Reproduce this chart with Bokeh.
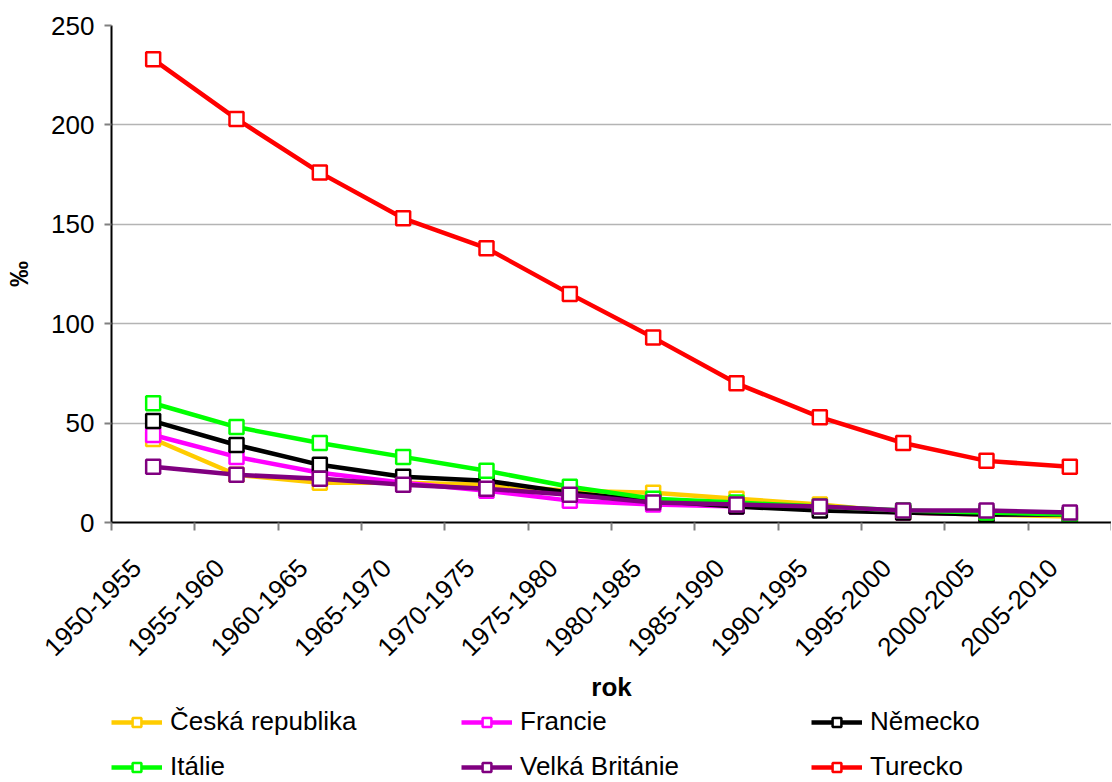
from bokeh.plotting import figure
from bokeh.models import Range1d, FixedTicker, Legend, LegendItem
from bokeh.layouts import column
from bokeh.embed import file_html
from bokeh.resources import INLINE

periods = ["1950-1955", "1955-1960", "1960-1965", "1965-1970", "1970-1975", "1975-1980",
           "1980-1985", "1985-1990", "1990-1995", "1995-2000", "2000-2005", "2005-2010"]

cesko = [42, 24, 20, 20, 19, 16, 15, 12, 9, 5, 4, 3]
francie = [44, 33, 25, 20, 16, 11, 9, 8, 7, 5, 4, 4]
nemecko = [51, 39, 29, 23, 21, 15, 11, 8, 6, 5, 4, 4]
italie = [60, 48, 40, 33, 26, 18, 12, 10, 8, 6, 5, 4]
britanie = [28, 24, 22, 19, 17, 14, 10, 9, 8, 6, 6, 5]
turecko = [233, 203, 176, 153, 138, 115, 93, 70, 53, 40, 31, 28]

series_names = ["Česká republika", "Francie", "Německo", "Itálie", "Velká Británie", "Turecko"]
series_values = [cesko, francie, nemecko, italie, britanie, turecko]
series_colors = ["#FFCC00", "#FF00FF", "#000000", "#00FF00", "#800080", "#FF0000"]

y_ticks = [0, 50, 100, 150, 200, 250]

FONT = "Liberation Sans"
FS = "26px"
n = len(periods)
xs = [i + 0.5 for i in range(n)]
# rotated labels are anchored slightly left of the category centre (as in the original)
label_pos = [round(i + 0.3, 2) for i in range(n)]

p = figure(frame_width=1000, frame_height=497, output_backend="svg", toolbar_location=None,
           x_range=Range1d(0, n), y_range=Range1d(0, 250),
           min_border_left=111, min_border_right=0, min_border_top=25,
           min_border_bottom=182)
p.outline_line_color = None
p.background_fill_color = "white"

# axes
p.xaxis.ticker = FixedTicker(ticks=label_pos, minor_ticks=list(range(n + 1)))
p.xaxis.major_label_overrides = {x: lab for x, lab in zip(label_pos, periods)}
p.xaxis.major_label_orientation = 0.785398
p.xaxis.major_tick_in = 0
p.xaxis.major_tick_out = 0
p.xaxis.minor_tick_in = 0
p.xaxis.minor_tick_out = 8
p.xaxis.minor_tick_line_color = "#808080"
p.xaxis.minor_tick_line_width = 2
p.xaxis.axis_line_color = "black"
p.xaxis.axis_line_width = 2
p.xaxis.major_label_text_font = FONT
p.xaxis.major_label_text_font_size = FS
p.xaxis.major_label_text_color = "black"
p.xaxis.major_label_standoff = 33
p.xaxis.axis_label = "rok"
p.xaxis.axis_label_text_font = FONT
p.xaxis.axis_label_text_font_size = FS
p.xaxis.axis_label_text_font_style = "bold"
p.xaxis.axis_label_text_color = "black"
p.xaxis.axis_label_standoff = 5

p.yaxis.ticker = FixedTicker(ticks=y_ticks)
p.yaxis.major_tick_in = 0
p.yaxis.major_tick_out = 7
p.yaxis.major_tick_line_color = "#808080"
p.yaxis.major_tick_line_width = 2
p.yaxis.minor_tick_line_color = None
p.yaxis.axis_line_color = "black"
p.yaxis.axis_line_width = 2
p.yaxis.major_label_text_font = FONT
p.yaxis.major_label_text_font_size = FS
p.yaxis.major_label_text_color = "black"
p.yaxis.major_label_standoff = 10
p.yaxis.axis_label = "‰"
p.yaxis.axis_label_text_font = FONT
p.yaxis.axis_label_text_font_size = FS
p.yaxis.axis_label_text_font_style = "bold"
p.yaxis.axis_label_text_color = "black"
p.yaxis.axis_label_standoff = 14

p.xgrid.grid_line_color = None
p.ygrid.grid_line_color = "#B4B4B4"
p.ygrid.grid_line_width = 1.5

for name, vals, col in zip(series_names, series_values, series_colors):
    p.line(xs, vals, line_color=col, line_width=4.5)
    p.scatter(xs, vals, marker="square", size=14, fill_color="white",
              line_color=col, line_width=2.5)

# legend strip below the chart (same series, renderers hidden; only the legend shows)
leg = figure(width=1111, height=78, output_backend="svg", toolbar_location=None,
             x_range=Range1d(0, n), y_range=Range1d(0, 250),
             x_axis_location=None, y_axis_location=None,
             min_border_left=0, min_border_right=0, min_border_top=0, min_border_bottom=0)
leg.outline_line_color = None
leg.xgrid.grid_line_color = None
leg.ygrid.grid_line_color = None

items = []
for name, vals, col in zip(series_names, series_values, series_colors):
    r1 = leg.line(xs, vals, line_color=col, line_width=4.5, visible=False)
    r2 = leg.scatter(xs, vals, marker="square", size=14, fill_color="white",
                     line_color=col, line_width=2.5, visible=False)
    items.append(LegendItem(label=name, renderers=[r1, r2]))

legend = Legend(items=items, ncols=3, orientation="horizontal",
                label_text_font=FONT, label_text_font_size=FS,
                label_text_color="black",
                glyph_width=51, glyph_height=22, label_height=22,
                label_width=277, label_standoff=8, spacing=14,
                padding=0, margin=0, border_line_color=None,
                background_fill_alpha=0, location=(0, 1))
leg.add_layout(legend)

open("out.html", "w").write(file_html(column(p, leg, spacing=0), INLINE))
